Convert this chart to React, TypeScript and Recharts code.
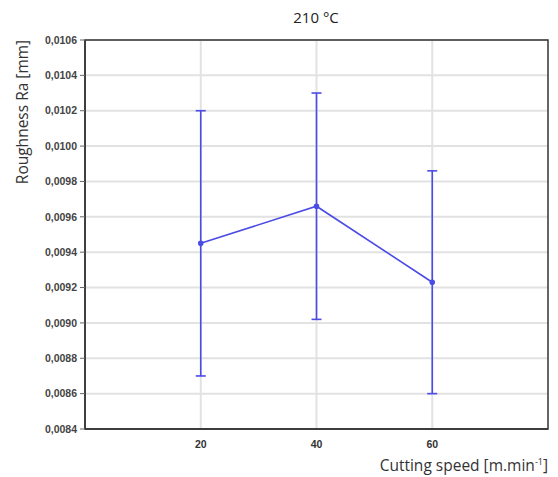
import React from "react";
import { LineChart, Line, XAxis, YAxis, CartesianGrid, ErrorBar, ReferenceArea } from "recharts";

const speeds = [20, 40, 60];
const roughness = [0.00945, 0.00966, 0.00923];
const errors = [0.00075, 0.00064, 0.00063];
const yTicks = [0.0084, 0.0086, 0.0088, 0.009, 0.0092, 0.0094, 0.0096, 0.0098, 0.01, 0.0102, 0.0104, 0.0106];
const xTicks = [20, 40, 60];

const data = speeds.map((s, i) => ({ speed: s, ra: roughness[i], err: errors[i] }));

const BLUE = "#4b4be6";
const fmt = (v: number) => v.toFixed(4).replace(".", ",");

export default function App() {
  return (
    <div style={{ position: "absolute", left: 0, top: 0, width: 558, height: 477, background: "#fff", fontFamily: "'Open Sans', sans-serif" }}>
      <LineChart width={558} height={477} data={data} margin={{ top: 40, right: 10, left: 0, bottom: 18 }}>
        <CartesianGrid stroke="#e2e2e2" strokeWidth={2} horizontalValues={yTicks} verticalValues={xTicks} />
        <XAxis
          type="number"
          dataKey="speed"
          domain={[0, 80]}
          ticks={xTicks}
          height={30}
          axisLine={{ stroke: "#333", strokeWidth: 1.5 }}
          tickLine={false}
          tick={{ fill: "#333", fontSize: 10.5, fontFamily: "Arial, 'Liberation Sans', sans-serif", fontWeight: "bold" }}
          tickMargin={6}
        />
        <YAxis
          type="number"
          domain={[0.0084, 0.0106]}
          ticks={yTicks}
          width={85}
          tickFormatter={fmt}
          axisLine={{ stroke: "#333", strokeWidth: 1.5 }}
          tickLine={{ stroke: "#666" }}
          tickSize={5}
          tickMargin={3}
          tick={{ fill: "#444", fontSize: 10.5, fontFamily: "Arial, 'Liberation Sans', sans-serif", fontWeight: "bold" }}
        />
        <ReferenceArea x1={0} x2={80} y1={0.0084} y2={0.0106} fill="none" stroke="#333" strokeWidth={1.5} ifOverflow="visible" />
        <Line
          type="linear"
          dataKey="ra"
          stroke={BLUE}
          strokeWidth={1.6}
          dot={{ r: 2, fill: BLUE, stroke: BLUE }}
          isAnimationActive={false}
        >
          <ErrorBar dataKey="err" direction="y" width={5} stroke={BLUE} strokeWidth={1.6} />
        </Line>
      </LineChart>
      <div style={{ position: "absolute", left: 216, width: 200, top: 7, textAlign: "center", fontSize: 15, color: "#222" }}>210 °C</div>
      <div
        style={{
          position: "absolute",
          left: 22,
          top: 112,
          transform: "translate(-50%, -50%) rotate(-90deg)",
          whiteSpace: "nowrap",
          fontSize: 15.5,
          color: "#333",
        }}
      >
        Roughness Ra [mm]
      </div>
      <div style={{ position: "absolute", right: 10, top: 454, fontSize: 15.5, lineHeight: "22px", color: "#333", whiteSpace: "nowrap" }}>
        Cutting speed [m.min<sup style={{ fontSize: 9, lineHeight: 0 }}>-1</sup>]
      </div>
    </div>
  );
}
